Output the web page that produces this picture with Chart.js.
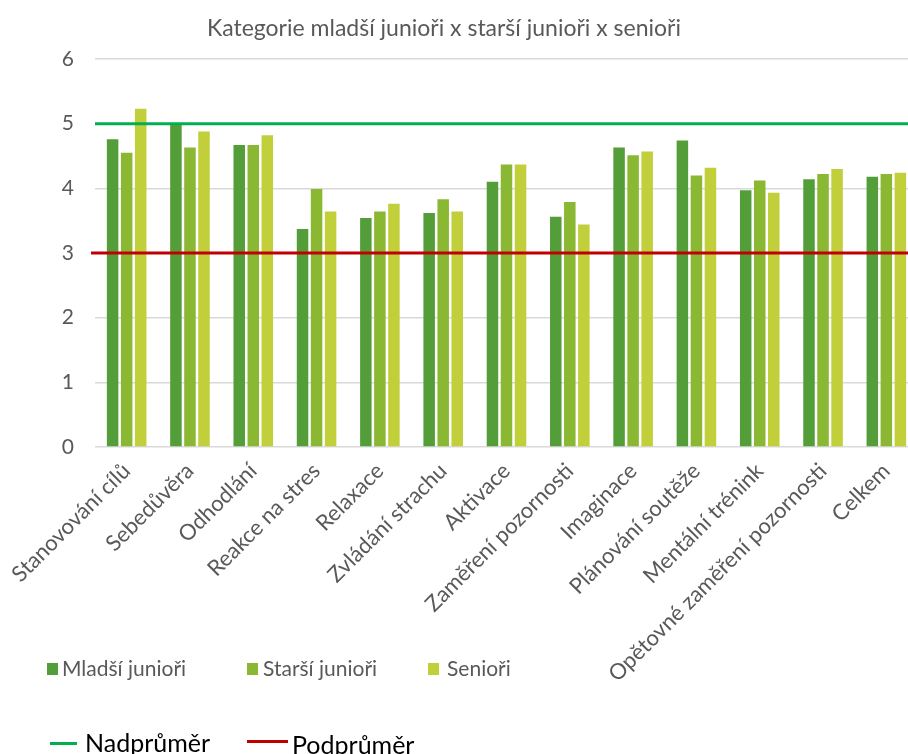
<!DOCTYPE html>
<html>
<head>
<meta charset="utf-8">
<script src="https://cdn.jsdelivr.net/npm/chart.js@4"></script>
<style>
  html, body { margin: 0; padding: 0; background: #fff; overflow: hidden; }
  #wrap { position: relative; width: 908px; height: 754px; overflow: hidden; font-family: Lato, "Open Sans", sans-serif; }
  #chart { position: absolute; left: 0; top: 0; }
  .title { position: absolute; left: 0; width: 888px; top: 13px; text-align: center; font-size: 23px; line-height: 28px; color: #595959; }
  .leg { position: absolute; font-size: 21px; color: #595959; white-space: nowrap; line-height: 22px; }
  .sq { position: absolute; width: 11px; height: 12px; }
  .ln { position: absolute; height: 3px; }
  .leg2 { position: absolute; font-size: 25px; color: #000; white-space: nowrap; line-height: 24px; }
</style>
</head>
<body>
<div id="wrap">
  <canvas id="chart" width="918" height="754"></canvas>
  <div class="title" id="title"></div>
  <div id="legend"></div>
</div>
<script>
const categories = [
  "Stanovování cílů", "Sebedůvěra", "Odhodlání", "Reakce na stres", "Relaxace",
  "Zvládání strachu", "Aktivace", "Zaměření pozornosti", "Imaginace",
  "Plánování soutěže", "Mentální trénink", "Opětovné zaměření pozornosti", "Celkem"
];
const seriesNames = ["Mladší junioři", "Starší junioři", "Senioři"];
const mladsiJuniori = [4.76, 4.98, 4.67, 3.37, 3.54, 3.62, 4.10, 3.56, 4.63, 4.74, 3.97, 4.14, 4.18];
const starsiJuniori = [4.55, 4.63, 4.67, 3.99, 3.64, 3.83, 4.37, 3.79, 4.51, 4.20, 4.12, 4.22, 4.22];
const seniori = [5.23, 4.88, 4.82, 3.64, 3.76, 3.64, 4.37, 3.44, 4.57, 4.32, 3.93, 4.30, 4.24];
const lineNames = ["Nadprůměr", "Podprůměr"];
const nadprumer = 5;
const podprumer = 3;
const yMin = 0, yMax = 6, yStep = 1;
const titleText = "Kategorie mladší junioři x starší junioři x senioři";

const barColors = ["#549E39", "#8AB833", "#C0CF3A"];
const lineColors = ["#00B050", "#C00000"];

document.getElementById("title").textContent = titleText;

// legend drawn as html so it can sit over the label area like in the original
const legend = document.getElementById("legend");
const sqPos = [[47, 62], [247, 263], [428, 447]];
seriesNames.forEach((name, i) => {
  const sq = document.createElement("div");
  sq.className = "sq";
  sq.style.left = sqPos[i][0] + "px";
  sq.style.top = "663px";
  sq.style.background = barColors[i];
  legend.appendChild(sq);
  const t = document.createElement("div");
  t.className = "leg";
  t.style.left = sqPos[i][1] + "px";
  t.style.top = "657px";
  t.textContent = name;
  legend.appendChild(t);
});
const lnPos = [[50, 27, 742, 85, 730], [247, 41, 740, 292, 732]];
lineNames.forEach((name, i) => {
  const p = lnPos[i];
  const ln = document.createElement("div");
  ln.className = "ln";
  ln.style.left = p[0] + "px";
  ln.style.width = p[1] + "px";
  ln.style.top = p[2] + "px";
  ln.style.background = lineColors[i];
  legend.appendChild(ln);
  const t = document.createElement("div");
  t.className = "leg2";
  t.style.left = p[3] + "px";
  t.style.top = p[4] + "px";
  t.textContent = name;
  legend.appendChild(t);
});

// horizontal reference lines, placed with the y scale
const refLines = {
  id: "refLines",
  afterDatasetsDraw(chart) {
    const { ctx, chartArea, scales } = chart;
    [nadprumer, podprumer].forEach((v, i) => {
      const y = scales.y.getPixelForValue(v);
      ctx.save();
      ctx.strokeStyle = lineColors[i];
      ctx.lineWidth = 3;
      ctx.beginPath();
      ctx.moveTo(chartArea.left - (i === 1 ? 4 : 0), y);
      ctx.lineTo(chartArea.right, y);
      ctx.stroke();
      ctx.restore();
    });
  },
};

const seriesData = [mladsiJuniori, starsiJuniori, seniori];
const datasets = seriesData.map((d, i) => ({
  label: seriesNames[i],
  data: d,
  backgroundColor: barColors[i],
  categoryPercentage: 0.665,
  barPercentage: 0.82,
}));

const ctx = document.getElementById("chart").getContext("2d");
new Chart(ctx, {
  type: "bar",
  data: {
    labels: categories,
    datasets: datasets,
  },
  plugins: [refLines],
  options: {
    responsive: false,
    animation: false,
    layout: { padding: { top: 59, left: 0, right: 0, bottom: 0 } },
    plugins: {
      legend: { display: false },
      title: { display: false },
      tooltip: { enabled: false },
    },
    scales: {
      x: {
        grid: { display: false },
        border: { display: false },
        ticks: {
          color: "#595959",
          font: { family: "Lato", size: 22 },
          minRotation: 45,
          maxRotation: 45,
          autoSkip: false,
          padding: 3,
        },
        afterFit: (scale) => { scale.height = 307; },
      },
      y: {
        min: yMin,
        max: yMax,
        ticks: {
          stepSize: yStep,
          color: "#595959",
          font: { family: "Lato", size: 21 },
          padding: 21,
        },
        grid: { color: "#D9D9D9", lineWidth: 1.5, drawTicks: false },
        border: { display: false },
        afterFit: (scale) => { scale.width = 95; },
      },
    },
  },
});
</script>
</body>
</html>
